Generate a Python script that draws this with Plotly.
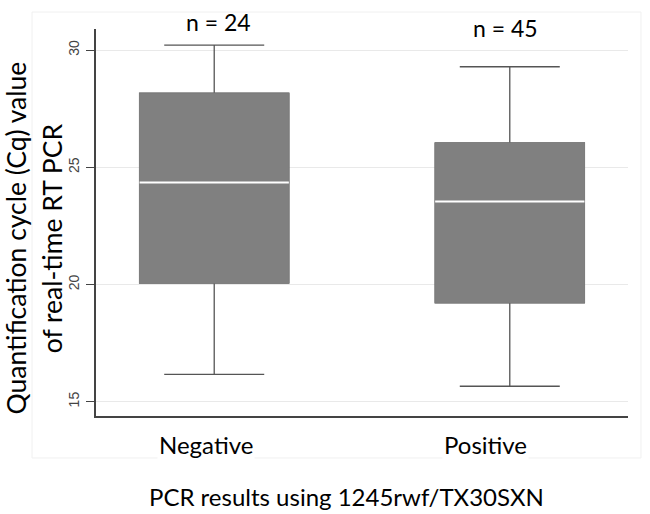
import plotly.graph_objects as go

categories = ["Negative", "Positive"]
n_labels = ["n = 24", "n = 45"]
lower_whisker = [16.17, 15.66]
q1 = [20.06, 19.22]
median = [24.35, 23.54]
q3 = [28.16, 26.04]
upper_whisker = [30.21, 29.29]
y_ticks = [15, 20, 25, 30]
y_title_lines = ["Quantification cycle (Cq) value", "of real-time RT PCR"]
x_title = "PCR results using 1245rwf/TX30SXN"

BOX_W = 0.505
fig = go.Figure()
fig.add_trace(go.Box(
    x=categories, q1=q1, median=median, q3=q3,
    lowerfence=lower_whisker, upperfence=upper_whisker,
    fillcolor="#808080", line=dict(color="#555555", width=1.3),
    whiskerwidth=0.67, width=BOX_W, boxpoints=False, hoverinfo="skip",
    showlegend=False))
fig.add_trace(go.Box(
    x=categories, q1=q1, median=q1, q3=q3,
    lowerfence=q1, upperfence=q3,
    fillcolor="#808080", line=dict(color="#808080", width=1),
    whiskerwidth=0, width=BOX_W, boxpoints=False, hoverinfo="skip",
    showlegend=False))
fig.add_trace(go.Box(
    x=categories, q1=median, median=median, q3=median,
    lowerfence=median, upperfence=median,
    fillcolor="rgba(0,0,0,0)", line=dict(color="white", width=2),
    whiskerwidth=0, width=BOX_W, boxpoints=False, hoverinfo="skip",
    showlegend=False))

# sample-size labels above the plot
ann_y = [1.018, 1.0026]
ann_shift = [4, -4]
for c, t, yy, sh in zip(categories, n_labels, ann_y, ann_shift):
    fig.add_annotation(x=c, y=yy, text=t, showarrow=False, xshift=sh,
                       xref="x", yref="paper", yanchor="middle",
                       font=dict(family="Lato", size=23, color="black"))

# category labels (slightly offset left as in the original)
lab_shift = [-8, -24]
for c, sh in zip(categories, lab_shift):
    fig.add_annotation(x=c, y=-0.0724, text=c, showarrow=False, xshift=sh,
                       xref="x", yref="paper", yanchor="middle",
                       bgcolor="white",
                       font=dict(family="Lato", size=24, color="black"))

# x-axis title
fig.add_annotation(x=0.470, y=-0.209, text=x_title, showarrow=False,
                   xref="paper", yref="paper", xanchor="center", yanchor="middle",
                   font=dict(family="Lato", size=24, color="black"))

# y-axis title (two lines)
for xx, t in zip([-0.1513, -0.082], y_title_lines):
    fig.add_annotation(x=xx, y=0.46, text=t, textangle=-90, showarrow=False,
                       xref="paper", yref="paper", xanchor="center", yanchor="middle",
                       font=dict(family="Lato", size=26.5, color="black"))

# faint outer panel border
fig.add_shape(type="rect", xref="paper", yref="paper",
              x0=-0.1203, x1=1.0244, y0=-0.1085, y1=1.0439,
              line=dict(color="#f0f0f0", width=1), layer="below")

fig.update_layout(
    width=650, height=514,
    margin=dict(l=96, r=22, t=29, b=98),
    paper_bgcolor="white", plot_bgcolor="white",
    boxmode="overlay",
    showlegend=False,
    xaxis=dict(
        type="category", range=[-0.4, 1.4],
        showline=True, linecolor="#444444", linewidth=1.5,
        showgrid=False, ticks="", zeroline=False,
        showticklabels=False,
    ),
    yaxis=dict(
        range=[14.39, 30.9], tickvals=y_ticks,
        showline=True, linecolor="#444444", linewidth=1.5,
        ticks="outside", ticklen=8, tickcolor="#444444", tickwidth=1,
        tickangle=-90, ticklabelstandoff=2,
        tickfont=dict(family="Liberation Sans", size=14, color="#444444"),
        showgrid=True, gridcolor="#e9e9e9", gridwidth=1, zeroline=False,
    ),
)

fig.write_html("out.html")
